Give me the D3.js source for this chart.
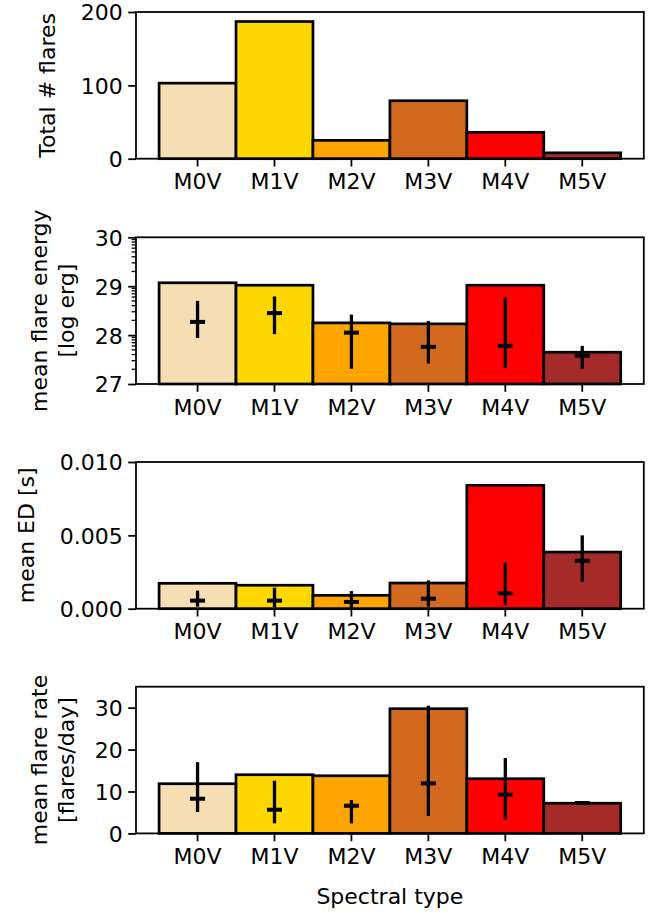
<!DOCTYPE html>
<html>
<head>
<meta charset="utf-8">
<script src="https://cdn.jsdelivr.net/npm/d3@7/dist/d3.min.js"></script>
<style>
  html, body { margin: 0; padding: 0; background: #fff; }
  svg { display: block; }
  text { font-family: "DejaVu Sans", sans-serif; fill: #000; }
</style>
</head>
<body>
<svg id="chart" width="666" height="915"></svg>
<script>
// Spectral types and their bar colours
const categories = ["M0V", "M1V", "M2V", "M3V", "M4V", "M5V"];
const barColors = ["#f5deb3", "#ffd700", "#ffa500", "#d2691e", "#ff0000", "#a52a2a"];

// Total number of flares per spectral type
const totalFlares = [103, 187, 25, 79, 36, 8];

// Mean flare energy (log erg): bar value, median marker and spread
const meanEnergy = [29.07, 29.02, 28.25, 28.23, 29.02, 27.65];
const energyMid  = [28.27, 28.45, 28.05, 27.76, 27.78, 27.58];
const energyLo   = [27.94, 28.02, 27.31, 27.42, 27.33, 27.31];
const energyHi   = [28.70, 28.79, 28.42, 28.29, 28.77, 27.78];

// Mean equivalent duration (s)
const meanED = [0.00173, 0.00160, 0.00091, 0.00175, 0.00841, 0.00386];
const edMid  = [0.00055, 0.00055, 0.00046, 0.00068, 0.00105, 0.00327];
const edLo   = [0.00014, 0.00010, 0.00002, 0.00014, 0.00023, 0.00184];
const edHi   = [0.00123, 0.00143, 0.00120, 0.00193, 0.00314, 0.00500];

// Mean flare rate (flares/day)
const meanRate = [11.85, 14.0, 13.75, 29.75, 13.05, 7.2];
const rateMid  = [8.27, 5.65, 6.6, 11.93, 9.23, 7.25];
const rateLo   = [5.1, 2.4, 2.4, 4.14, 3.34, 7.05];
const rateHi   = [17.0, 12.57, 7.96, 30.47, 17.98, 7.45];

// Tick values for each panel
const ticksTotal  = [0, 100, 200];
const ticksEnergy = [27, 28, 29, 30];
const ticksED     = [0, 0.005, 0.010];
const ticksRate   = [0, 10, 20, 30];

const svg = d3.select("#chart");
const FS = 22;            // font size in px
const left = 136, right = 643.8;
const panelH = 146.7;
const tops = [12, 237.3, 462, 686.7];

const x = d3.scaleBand()
  .domain(categories)
  .range([left, right])
  .paddingInner(0)
  .paddingOuter(0.3);

function drawPanel(idx, opts) {
  const top = tops[idx], bottom = top + panelH;
  const g = svg.append("g");
  const y = opts.log
    ? d3.scaleLog().domain(opts.domain.map(e => Math.pow(10, e))).range([bottom, top])
    : d3.scaleLinear().domain(opts.domain).range([bottom, top]);
  const val = opts.log ? (v => Math.pow(10, v)) : (v => v);

  // bars
  g.selectAll("rect.bar")
    .data(categories)
    .join("rect")
    .attr("class", "bar")
    .attr("x", d => x(d))
    .attr("width", x.bandwidth())
    .attr("y", (d, i) => y(val(opts.values[i])))
    .attr("height", (d, i) => bottom - y(val(opts.values[i])))
    .attr("fill", (d, i) => barColors[i])
    .attr("stroke", "#000")
    .attr("stroke-width", 2.7);

  // error bars with a horizontal marker at the central value
  if (opts.mid) {
    const eb = g.selectAll("g.err")
      .data(categories)
      .join("g")
      .attr("class", "err");
    eb.append("line")
      .attr("x1", d => x(d) + x.bandwidth() / 2)
      .attr("x2", d => x(d) + x.bandwidth() / 2)
      .attr("y1", (d, i) => y(val(opts.lo[i])))
      .attr("y2", (d, i) => y(val(opts.hi[i])))
      .attr("stroke", "#000")
      .attr("stroke-width", 3.3);
    eb.append("line")
      .attr("x1", d => x(d) + x.bandwidth() / 2 - 7.5)
      .attr("x2", d => x(d) + x.bandwidth() / 2 + 7.5)
      .attr("y1", (d, i) => y(val(opts.mid[i])))
      .attr("y2", (d, i) => y(val(opts.mid[i])))
      .attr("stroke", "#000")
      .attr("stroke-width", 4);
  }

  // minor ticks for the log axis (2..9 within each decade)
  if (opts.log) {
    const minors = [];
    for (let e = opts.domain[0]; e < opts.domain[1]; e++) {
      for (let k = 2; k <= 9; k++) minors.push(k * Math.pow(10, e));
    }
    g.selectAll("line.minor")
      .data(minors)
      .join("line")
      .attr("class", "minor")
      .attr("x1", left).attr("x2", left - 4.4)
      .attr("y1", d => y(d)).attr("y2", d => y(d))
      .attr("stroke", "#000").attr("stroke-width", 1.3);
  }

  // y axis
  const yAxis = d3.axisLeft(y)
    .tickValues(opts.log ? opts.ticks.map(t => Math.pow(10, t)) : opts.ticks)
    .tickSize(7.8)
    .tickPadding(5.5)
    .tickFormat((d, i) => opts.tickFmt(opts.ticks[i]));
  const ya = g.append("g").attr("transform", `translate(${left},0)`).call(yAxis);
  ya.select(".domain").remove();
  ya.selectAll(".tick line").attr("stroke-width", 1.78);
  ya.selectAll(".tick text").attr("font-size", FS).attr("font-family", "DejaVu Sans").attr("dy", "0.36em");

  // x axis
  const xAxis = d3.axisBottom(x).tickSize(7.8).tickPadding(6);
  const xa = g.append("g").attr("transform", `translate(0,${bottom})`).call(xAxis);
  xa.select(".domain").remove();
  xa.selectAll(".tick line").attr("stroke-width", 1.78);
  xa.selectAll(".tick text").attr("font-size", FS).attr("font-family", "DejaVu Sans").attr("dy", "0.76em");

  // frame
  g.append("rect")
    .attr("x", left).attr("y", top)
    .attr("width", right - left).attr("height", panelH)
    .attr("fill", "none").attr("stroke", "#000").attr("stroke-width", 1.78);

  // y label (one or two lines)
  const cy = top + panelH / 2;
  opts.label.forEach((line, j) => {
    g.append("text")
      .attr("transform", `translate(${opts.labelX[j]},${cy}) rotate(-90)`)
      .attr("text-anchor", "middle")
      .attr("font-size", FS)
      .text(line);
  });
}

drawPanel(0, {
  domain: [0, 200], values: totalFlares, ticks: ticksTotal,
  tickFmt: d3.format("d"), label: ["Total # flares"], labelX: [55]
});
drawPanel(1, {
  log: true, domain: [27, 30], values: meanEnergy,
  mid: energyMid, lo: energyLo, hi: energyHi, ticks: ticksEnergy,
  tickFmt: d => String(d), label: ["mean flare energy", "[log erg]"], labelX: [47, 74]
});
drawPanel(2, {
  domain: [0, 0.010], values: meanED,
  mid: edMid, lo: edLo, hi: edHi, ticks: ticksED,
  tickFmt: d3.format(".3f"), label: ["mean ED [s]"], labelX: [34]
});
drawPanel(3, {
  domain: [0, 35], values: meanRate,
  mid: rateMid, lo: rateLo, hi: rateHi, ticks: ticksRate,
  tickFmt: d3.format("d"), label: ["mean flare rate", "[flares/day]"], labelX: [47, 74]
});

// shared x label
svg.append("text")
  .attr("x", (left + right) / 2)
  .attr("y", 903.5)
  .attr("text-anchor", "middle")
  .attr("font-size", FS)
  .text("Spectral type");
</script>
</body>
</html>
